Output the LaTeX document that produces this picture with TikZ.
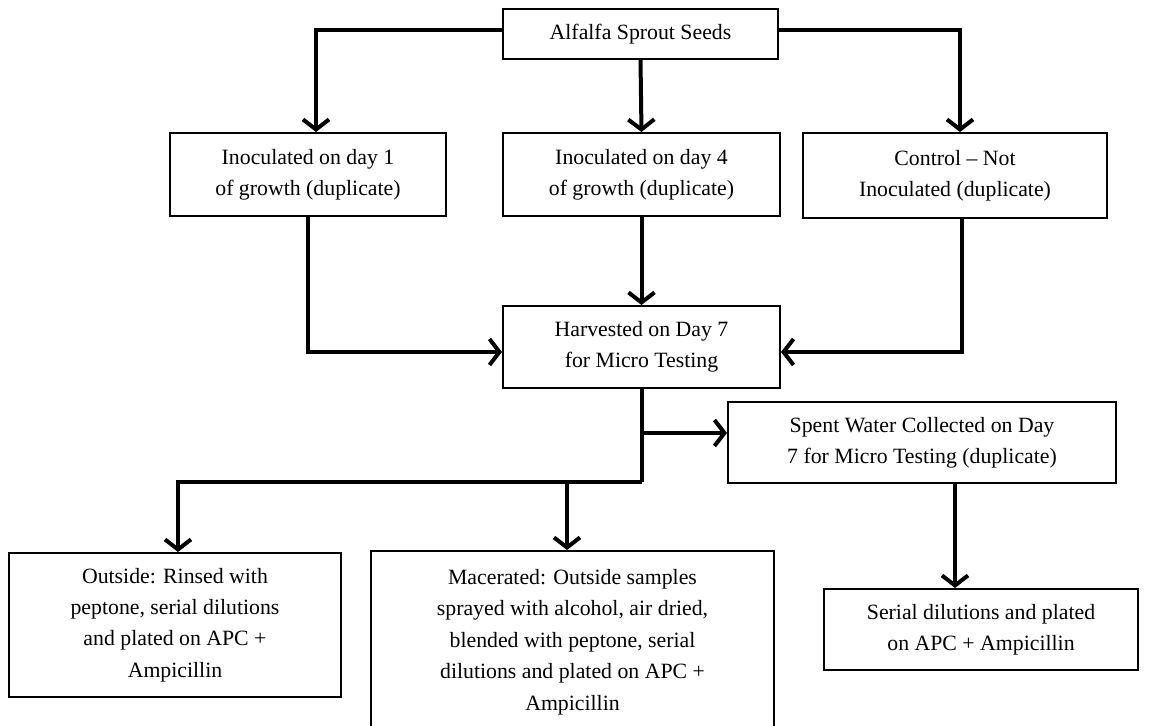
\documentclass[tikz,border=0pt]{standalone}
\usepackage{fontspec}
\setmainfont{Liberation Serif}
\usetikzlibrary{arrows.meta}

\tikzset{
  stepbox/.style={draw, line width=1pt, align=center, inner sep=0pt,
    font=\fontsize{10.9}{15.7}\selectfont},
  conn/.style={line width=2pt, -{Straight Barb[length=5pt,width=13pt]}},
  link/.style={line width=2pt}
}

\begin{document}
\begin{tikzpicture}[x=0.5pt, y=-0.5pt]
    \useasboundingbox (0,0) rectangle (1152,726);

    % Start
    \node[stepbox, minimum width=137.5pt, minimum height=25pt] (seeds) at (640.5,34) {Alfalfa Sprout Seeds};

    % Treatments
    \node[stepbox, minimum width=138pt, minimum height=41.5pt] (day1) at (308,174.5) {Inoculated on day 1\\of growth (duplicate)};
    \node[stepbox, minimum width=138.5pt, minimum height=41.5pt] (day4) at (641.5,174.5) {Inoculated on day 4\\of growth (duplicate)};
    \node[stepbox, minimum width=152pt, minimum height=42.5pt] (ctrl) at (955,175.5) {Control -- Not\\Inoculated (duplicate)};

    % Harvest
    \node[stepbox, minimum width=138.5pt, minimum height=41pt] (harv) at (641.5,347) {Harvested on Day 7\\for Micro Testing};
    \node[stepbox, minimum width=194pt, minimum height=40.5pt] (spent) at (922,442.5) {Spent Water Collected on Day\\7 for Micro Testing (duplicate)};

    % Testing
    \node[stepbox, minimum width=166pt, minimum height=72pt] (outside) at (175,625) {Outside: Rinsed with\\peptone, serial dilutions\\and plated on APC +\\Ampicillin};
    \node[stepbox, minimum width=201.5pt, minimum height=91pt] (macer) at (572.5,642) {Macerated: Outside samples\\sprayed with alcohol, air dried,\\blended with peptone, serial\\dilutions and plated on APC +\\Ampicillin};
    \node[stepbox, minimum width=157pt, minimum height=40.5pt] (serial) at (981,629.5) {Serial dilutions and plated\\on APC + Ampicillin};

    % Branch points
    \coordinate (fork) at (641.5,433);
    \coordinate (split) at (641.5,482);

    % Connectors
    \draw[conn] ([yshift=2pt]seeds.west) -| ([xshift=4pt]day1.north);
    \draw[conn] (seeds.south) -- (day4.north);
    \draw[conn] ([yshift=2pt]seeds.east) -| ([xshift=2.5pt]ctrl.north);

    \draw[conn] (day1.south) |- ([yshift=-2.5pt]harv.west);
    \draw[conn] (day4.south) -- (harv.north);
    \draw[conn] ([xshift=3.5pt]ctrl.south) |- ([yshift=-2.5pt]harv.east);

    \draw[link] (harv.south) -- (split);
    \draw[conn] (fork) -- (fork -| spent.west);
    \draw[conn] (split) -| ([xshift=1.5pt]outside.north);
    \draw[conn] ([xshift=-2.75pt]macer.north |- split) -- ([xshift=-2.75pt]macer.north);
    \draw[conn] ([xshift=16.5pt]spent.south) -- ([xshift=16.5pt]spent.south |- serial.north);

\end{tikzpicture}
\end{document}
